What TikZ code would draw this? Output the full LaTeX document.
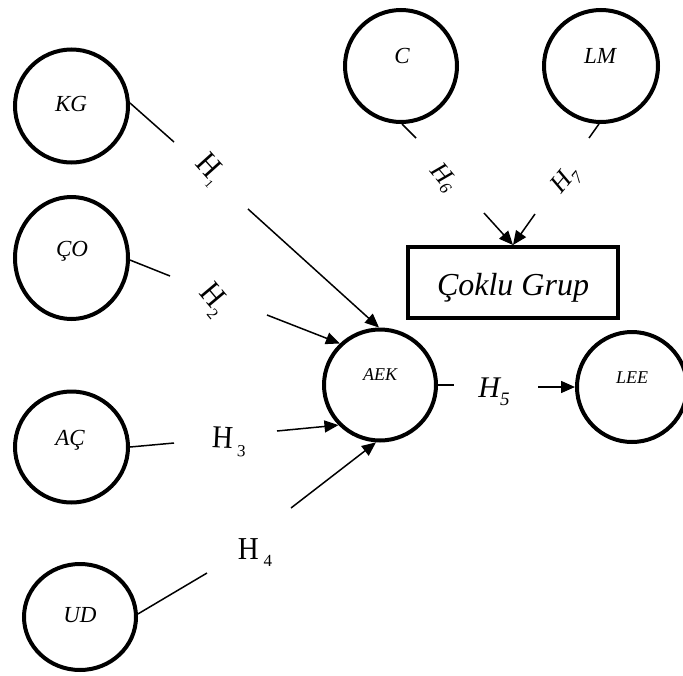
\documentclass[tikz,border=0pt]{standalone}
\usepackage{fontspec}
\setmainfont{Liberation Serif}
\usetikzlibrary{shapes.geometric,arrows.meta}
\begin{document}
\begin{tikzpicture}[x=1pt,y=-1pt,
  var/.style={ellipse,draw,line width=4pt,inner sep=0pt},
  lbl/.style={anchor=base,inner sep=0pt,font=\fontsize{23}{25}\selectfont\itshape},
  slbl/.style={anchor=base,inner sep=0pt,font=\fontsize{18}{20}\selectfont\itshape},
  conn/.style={line width=1.5pt},
  arr/.style={line width=1.5pt,-{Triangle[length=14pt,width=12pt]}},
  hyp/.style={inner sep=0pt,font=\fontsize{29}{31}\selectfont},
  ihyp/.style={inner sep=0pt,font=\fontsize{30}{32}\selectfont\itshape}]
\useasboundingbox (0,0) rectangle (683,675);
% variables
\node[var,minimum width=113pt,minimum height=113pt] (KG) at (71.5,106) {};
\node[var,minimum width=113pt,minimum height=122pt] (CO) at (71.5,258) {};
\node[var,minimum width=113pt,minimum height=111pt] (AC) at (71.5,447) {};
\node[var,minimum width=112pt,minimum height=106pt] (UD) at (80,617) {};
\node[var,minimum width=112pt,minimum height=112pt] (C) at (401,66) {};
\node[var,minimum width=114pt,minimum height=112pt] (LM) at (601,66) {};
\node[var,minimum width=112pt,minimum height=111pt] (AEK) at (380,385) {};
\node[var,minimum width=110pt,minimum height=110pt] (LEE) at (632,387) {};
\node[draw,line width=4pt,minimum width=210pt,minimum height=71pt,inner sep=0pt] (G) at (513,282.5) {};
% labels
\node[lbl] (tKG) at (71,111) {KG};
\node[lbl] (tCO) at (72,256) {ÇO};
\node[lbl] (tAC) at (70,445) {AÇ};
\node[lbl] (tUD) at (80,622) {UD};
\node[lbl] (tC) at (402,63) {C};
\node[lbl] (tLM) at (600,63) {LM};
\node[slbl] (tAEK) at (380,380) {AEK};
\node[slbl] (tLEE) at (632,383) {LEE};
\node[anchor=base,inner sep=0pt,font=\fontsize{32}{34}\selectfont\itshape] (tG) at (513,295) {Çoklu Grup};
% hypothesis labels
\node[hyp,rotate=-48] (H1) at (209,170) {\scalebox{1}[1.1]{H}{\fontsize{12}{12}\selectfont\raisebox{-6pt}{1}}};
\node[hyp,rotate=-50] (H2) at (213,300) {\scalebox{1}[1.1]{H}{\fontsize{16}{16}\selectfont\raisebox{-8pt}{2}}};
\node[hyp,rotate=-3] (H3) at (229,442) {\scalebox{1}[1.1]{H}\,{\fontsize{17}{17}\selectfont\raisebox{-7pt}{3}}};
\node[hyp] (H4) at (255,553) {\scalebox{1}[1.1]{H}\,{\fontsize{17}{17}\selectfont\raisebox{-7pt}{4}}};
\node[ihyp] (H5) at (494,392) {H{\fontsize{19}{19}\selectfont\raisebox{-8pt}{5}}};
\node[ihyp,rotate=-50,font=\fontsize{26}{28}\selectfont\itshape] (H6) at (443,178) {H{\fontsize{17}{17}\selectfont\raisebox{-4pt}{6}}};
\node[ihyp,rotate=50,font=\fontsize{26}{28}\selectfont\itshape] (H7) at (566,181) {H{\fontsize{17}{17}\selectfont\raisebox{-7pt}{7}}};
% connector ends
\coordinate (k1) at (174,142); \coordinate (k2) at (248,209);
\coordinate (o1) at (170,276); \coordinate (o2) at (267,315);
\coordinate (a1) at (174,443); \coordinate (a2) at (277,431);
\coordinate (u1) at (207,573); \coordinate (u2) at (291,508);
\coordinate (e1) at (454,385); \coordinate (e2) at (538,387);
\coordinate (c1) at (416,138); \coordinate (c2) at (484,213);
\coordinate (l1) at (589,138); \coordinate (l2) at (535,214);
% connectors
\draw[conn] (KG.3) -- (k1);  \draw[arr] (k2) -- (AEK.91);
\draw[conn] (CO.-2) -- (o1); \draw[arr] (o2) -- (AEK.134);
\draw[conn] (AC.east) -- (a1); \draw[arr] (a2) -- (AEK.224);
\draw[conn] (UD.3) -- (u1);  \draw[arr] (u2) -- (AEK.266);
\draw[conn] (AEK.east) -- (e1); \draw[arr] (e2) -- (LEE.west);
\draw[conn] (C.-89) -- (c1); \draw[arr] (c2) -- (G.north);
\draw[conn] (LM.-92) -- (l1); \draw[arr] (l2) -- (G.north);
\end{tikzpicture}
\end{document}
